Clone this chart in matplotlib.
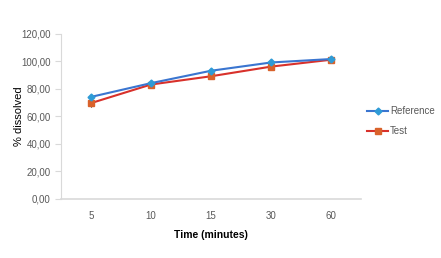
import matplotlib
matplotlib.use("Agg")
import matplotlib.pyplot as plt
from matplotlib.lines import Line2D
from matplotlib.ticker import FuncFormatter

times = ["5", "10", "15", "30", "60"]
reference = [74.0, 84.0, 93.0, 99.0, 101.5]
test = [69.5, 83.0, 89.0, 96.0, 101.0]
reference_err = [1.5, 1.0, 1.5, 1.0, 1.0]
test_err = [2.5, 1.5, 2.0, 1.5, 1.5]

plt.rcParams['font.family'] = ['Liberation Sans', 'DejaVu Sans']

fig = plt.figure(figsize=(4.41, 2.58), dpi=100)
ax = fig.add_axes([0.138, 0.229, 0.681, 0.641])

x = list(range(len(times)))
ax.errorbar(x, test, yerr=test_err, color='#D8312B', lw=1.5, marker='s', ms=5,
            mfc='#D9622B', mec='#D9622B', ecolor='black', elinewidth=0.8, capsize=0,
            zorder=2)
ax.errorbar(x, reference, yerr=reference_err, color='#3A75D0', lw=1.5, marker='D', ms=3.5,
            mfc='#2E9BD6', mec='#2E9BD6', ecolor='black', elinewidth=0.8, capsize=0,
            zorder=3)

ax.set_xlim(-0.5, len(times) - 0.5)
ax.set_ylim(0, 120)
ax.set_yticks(range(0, 121, 20))
ax.yaxis.set_major_formatter(FuncFormatter(lambda v, p: f"{v:.2f}".replace('.', ',')))
ax.set_xticks(x)
ax.set_xticklabels(times)

for s in ['top', 'right']:
    ax.spines[s].set_visible(False)
ax.spines['bottom'].set_color('#D9D9D9')
ax.spines['left'].set_color('#D9D9D9')
ax.spines['bottom'].set_linewidth(1.2)
ax.tick_params(axis='y', colors='#D9D9D9', labelcolor='#595959', labelsize=7, length=4, width=0.8)
ax.tick_params(axis='x', length=0, labelcolor='#595959', labelsize=7, pad=9)

ax.set_xlabel('Time (minutes)', fontsize=7.5, fontweight='bold', labelpad=6)
ax.set_ylabel('% dissolved', fontsize=8)
ax.yaxis.set_label_coords(-0.122, 0.5)

handles = [
    Line2D([], [], color='#3A75D0', lw=1.5, marker='D', ms=3.5, mfc='#2E9BD6', mec='#2E9BD6'),
    Line2D([], [], color='#D8312B', lw=1.5, marker='s', ms=5, mfc='#D9622B', mec='#D9622B'),
]
ax.legend(handles, ['Reference', 'Test'], loc='center left', bbox_to_anchor=(0.99, 0.47),
          frameon=False, fontsize=7, labelcolor='#595959', handlelength=2.2,
          handletextpad=0.2, labelspacing=1.0)

fig.savefig('out.png', dpi=100)
